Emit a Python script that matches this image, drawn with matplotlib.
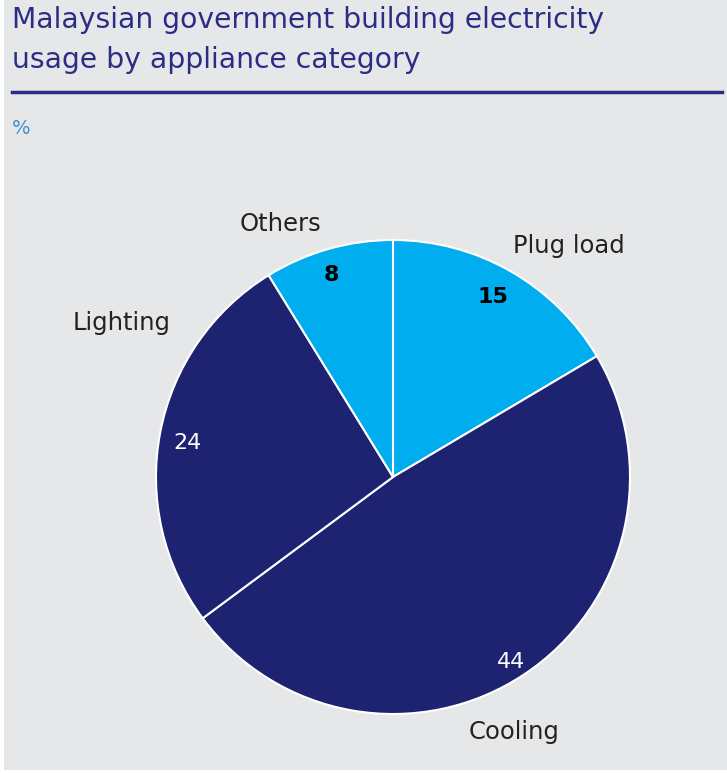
import matplotlib.pyplot as plt
from matplotlib.patches import Rectangle

# data
categories = ["Plug load", "Cooling", "Lighting", "Others"]
values = [15, 44, 24, 8]
colors = ["#00aeef", "#1d2271", "#1d2271", "#00aeef"]
value_colors = ["black", "white", "white", "black"]
value_weights = ["bold", "normal", "normal", "bold"]

title = "Malaysian government building electricity\nusage by appliance category"
unit = "%"

bg = "#e6e7e9"
navy = "#2b2d85"

fig = plt.figure(figsize=(7.27, 7.73), dpi=100)
fig.patch.set_facecolor("white")
# grey panel (thin white margin on the left and bottom like the source)
fig.patches.append(Rectangle((4 / 727, 3 / 773), 1, 1, transform=fig.transFigure,
                             facecolor=bg, edgecolor="none", zorder=-10))

fig.text(12 / 727, 1 - 6 / 773, title, ha="left", va="top", fontsize=20.3,
         color=navy, linespacing=1.55)
fig.add_artist(plt.Line2D([12 / 727, 722 / 727], [1 - 92 / 773, 1 - 92 / 773],
                          color=navy, lw=2.5, transform=fig.transFigure))
fig.text(12 / 727, 1 - 128 / 773, unit, ha="left", va="center", fontsize=14,
         color="#3f8fd2")

# pie axes: centre (393, 477) px, radius 237 px
r = 237
ax = fig.add_axes([(393 - r) / 727, (773 - 477 - r) / 773, 2 * r / 727, 2 * r / 773])
ax.set_facecolor("none")
wedges, _ = ax.pie(values, colors=colors, startangle=90, counterclock=False,
                   radius=1, wedgeprops=dict(edgecolor="white", linewidth=1.5))
ax.set_xlim(-1, 1)
ax.set_ylim(-1, 1)
ax.set_aspect("equal")
ax.axis("off")

# label and value placement (x, y in pie units)
label_pos = [(0.743, 0.975), (0.511, -1.076), (-1.143, 0.650), (-0.473, 1.068)]
value_pos = [(0.422, 0.759), (0.498, -0.781), (-0.865, 0.143), (-0.262, 0.852)]

for i, cat in enumerate(categories):
    ax.text(*label_pos[i], cat, ha="center", va="center", fontsize=17.5,
            color="#222222", clip_on=False)
    ax.text(*value_pos[i], str(values[i]), ha="center", va="center", fontsize=16,
            color=value_colors[i], fontweight=value_weights[i], clip_on=False)

fig.savefig("out.png", dpi=100, facecolor=fig.get_facecolor())
